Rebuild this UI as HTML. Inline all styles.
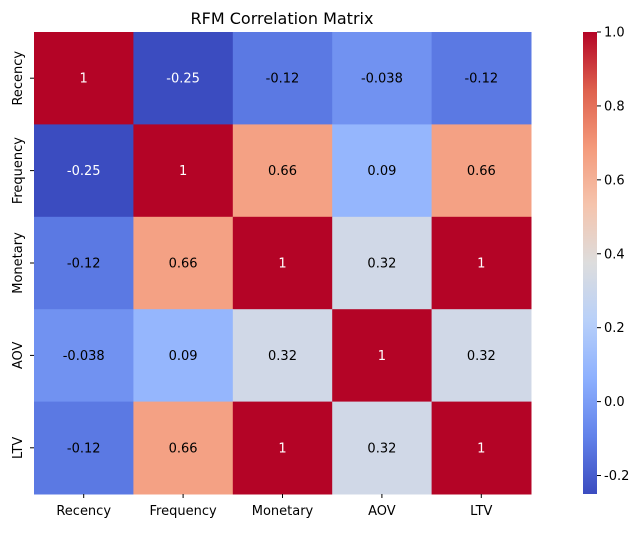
<!DOCTYPE html>
<html><head><meta charset="utf-8"><style>
body{margin:0;background:#fff;font-family:"Liberation Sans","DejaVu Sans",sans-serif;}
svg text{font-family:"DejaVu Sans","Liberation Sans",sans-serif;}
</style></head><body>
<svg id="chart" width="637" height="528" viewBox="0 0 637 528" xmlns="http://www.w3.org/2000/svg">
<text x="282" y="24" font-size="16" text-anchor="middle">RFM Correlation Matrix</text>
<g id="cells"></g><g id="xt"></g><g id="yt"></g>
<defs><linearGradient id="cg" x1="0" y1="1" x2="0" y2="0"></linearGradient></defs>
<rect x="583" y="32" width="14" height="462" fill="url(#cg)"/>
<g id="ct"></g>
</svg>
<script>
const labels = ["Recency","Frequency","Monetary","AOV","LTV"];
const matrix = [
 [1,-0.25,-0.12,-0.038,-0.12],
 [-0.25,1,0.66,0.09,0.66],
 [-0.12,0.66,1,0.32,1],
 [-0.038,0.09,0.32,1,0.32],
 [-0.12,0.66,1,0.32,1]
];
const cbTicks = [-0.2,0,0.2,0.4,0.6,0.8,1.0];
const vmin=-0.25, vmax=1;
const stops=[[59,76,192],[98,130,234],[141,176,254],[184,208,249],[221,221,221],[245,196,173],[244,154,123],[222,96,77],[180,4,38]];
function cmap(v){let t=(v-vmin)/(vmax-vmin);t=Math.max(0,Math.min(1,t));const p=t*8,i=Math.min(7,Math.floor(p)),f=p-i;const a=stops[i],b=stops[i+1];return `rgb(${a.map((c,k)=>Math.round(c+(b[k]-c)*f)).join(',')})`;}
const X0=34,Y0=32,W=497,H=462,n=labels.length,cw=W/n,ch=H/n;
const NS="http://www.w3.org/2000/svg";
function mk(tag,attrs,parent){const e=document.createElementNS(NS,tag);for(const k in attrs)e.setAttribute(k,attrs[k]);parent.appendChild(e);return e;}
const cells=document.getElementById('cells');
matrix.forEach((row,i)=>row.forEach((v,j)=>{
 const r=mk('rect',{x:X0+j*cw,y:Y0+i*ch,width:cw+0.5,height:ch+0.5,fill:cmap(v)},cells);
 
 
 const t=mk('text',{x:X0+(j+0.5)*cw,y:Y0+(i+0.5)*ch+4.5,'font-size':13,'text-anchor':'middle',fill:(v>0.8||v<-0.15)?'#fff':'#000'},cells);
 t.textContent=String(v);
 
 
}));
const xt=document.getElementById('xt'),yt=document.getElementById('yt');
labels.forEach((l,i)=>{
 const cx=X0+(i+0.5)*cw;
 mk('line',{x1:cx,x2:cx,y1:494,y2:498,stroke:'#000'},xt);
 const t=mk('text',{x:cx,y:515,'font-size':13,'text-anchor':'middle'},xt);t.textContent=l;
 
 
 const cy=Y0+(i+0.5)*ch;
 mk('line',{x1:30,x2:34,y1:cy,y2:cy,stroke:'#000'},yt);
 const u=mk('text',{x:22,y:cy,'font-size':13,'text-anchor':'middle',transform:`rotate(-90 22 ${cy})`},yt);u.textContent=l;
 
 
});
const g=document.getElementById('cg');
stops.forEach((s,i)=>mk('stop',{offset:(i/8),'stop-color':`rgb(${s.join(',')})`},g));
const ct=document.getElementById('ct');
cbTicks.forEach(v=>{
 const y=494-(v-vmin)/(vmax-vmin)*462;
 mk('line',{x1:597,x2:601,y1:y,y2:y,stroke:'#000'},ct);
 const t=mk('text',{x:604,y:y+4.5,'font-size':13},ct);t.textContent=v.toFixed(1);
 
 
});
</script>
</body></html>
